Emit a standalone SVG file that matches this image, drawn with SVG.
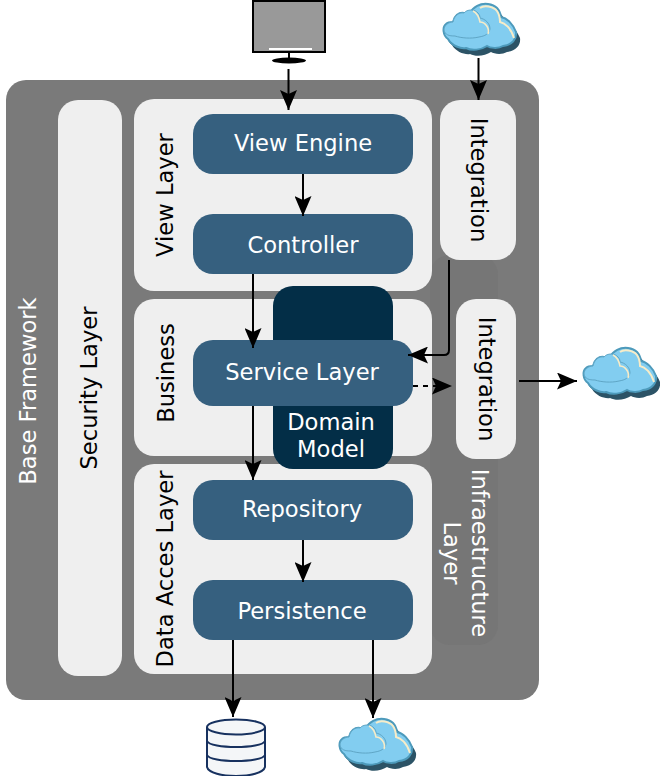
<svg xmlns="http://www.w3.org/2000/svg" width="660" height="776" viewBox="0 0 660 776">
<style>
text{font-family:"DejaVu Sans",sans-serif;font-size:22.6px;text-anchor:middle;dominant-baseline:central}
.w{fill:#fff}.d{fill:#000}
.panel{fill:#efefef}
.blue{fill:#36607f}
.c{fill:none;stroke:#000;stroke-width:2}
</style>
<defs>
<marker id="a" viewBox="0 0 20 17" refX="20" refY="8.500" markerUnits="userSpaceOnUse" markerWidth="20" markerHeight="17" orient="auto"><path d="M0 0L20 8.500L0 17L4 8.500Z" fill="#000"/></marker>
<symbol id="cloud" viewBox="0 0 78 56" overflow="visible">
<path transform="translate(4 6)" d="M5 37C0 34-1 25 3 22C5 20 8 20 10 20C11 14 16 10 21 11C24 11 26 11 27 11C30 5 37 1 45 2C52 3 57 7 58 15C64 16 70 22 73 30C74 37 69 43 60 44C55 47 47 46 44 44C38 48 29 49 23 46C18 47 9 44 5 37Z" fill="#2c5366"/>
<path d="M5 37C0 34-1 25 3 22C5 20 8 20 10 20C11 14 16 10 21 11C24 11 26 11 27 11C30 5 37 1 45 2C52 3 57 7 58 15C64 16 70 22 73 30C74 37 69 43 60 44C55 47 47 46 44 44C38 48 29 49 23 46C18 47 9 44 5 37Z" fill="#82cdf0" stroke="#4d9abb" stroke-width="2"/>
<path d="M37 6C41 3 50 4 54 9C56 12 57 16 57 20C62 21 68 26 71 36" fill="none" stroke="#f7ecc8" stroke-width="2"/>
<path d="M1 28C1 23 6 20 10 20C11 14 16 10 21 11C24 7 32 7 35 11C37 13 37 15 37 16C42 17 47 21 47 27C46 32 42 34 36 35C28 37 18 36 12 34C6 34 2 33 1 28Z" fill="#82cdf0" stroke="#5fa6c6" stroke-width="1"/>
<path d="M30 9C34 11 36 15 37 20C42 20 47 26 45 32" fill="none" stroke="#f7ecc8" stroke-width="1.600"/>
</symbol>
</defs>

<g id="base-framework">
<rect x="6" y="80" width="533" height="620" rx="20" fill="#7a7a7a"/>
<text class="w" transform="translate(28 391) rotate(-90)">Base Framework</text>
</g>
<g id="infrastructure-layer">
<rect x="430" y="255" width="68" height="390" rx="20" fill="#767676"/>
<text class="w" transform="translate(480 553) rotate(90)">Infraestructure</text>
<text class="w" transform="translate(452 553) rotate(90)">Layer</text>
</g>
<g id="security-layer">
<rect class="panel" x="58" y="100" width="64" height="576" rx="20"/>
<text class="d" transform="translate(89 388) rotate(-90)">Security Layer</text>
</g>
<g id="view-layer">
<rect class="panel" x="134" y="99" width="298" height="192" rx="20"/>
<text class="d" transform="translate(165 195) rotate(-90)">View Layer</text>
</g>
<g id="business">
<rect class="panel" x="134" y="299" width="298" height="157" rx="20"/>
<text class="d" transform="translate(166 373) rotate(-90)">Business</text>
</g>
<g id="data-access-layer">
<rect class="panel" x="134" y="464" width="298" height="210" rx="20"/>
<text class="d" transform="translate(165 569) rotate(-90)">Data Acces Layer</text>
</g>
<g id="domain-model">
<rect x="273" y="286" width="120" height="183" rx="20" fill="#032e47"/>
<text class="w" x="331" y="422">Domain</text>
<text class="w" x="331" y="449">Model</text>
</g>
<g id="view-engine"><rect class="blue" x="193" y="114" width="220" height="60" rx="20"/><text class="w" x="303" y="143">View Engine</text></g>
<g id="controller"><rect class="blue" x="193" y="214" width="220" height="60" rx="20"/><text class="w" x="303" y="245">Controller</text></g>
<g id="service-layer"><rect class="blue" x="193" y="340" width="220" height="66" rx="20"/><text class="w" x="302" y="372">Service Layer</text></g>
<g id="repository"><rect class="blue" x="193" y="480" width="220" height="60" rx="20"/><text class="w" x="302" y="509">Repository</text></g>
<g id="persistence"><rect class="blue" x="193" y="580" width="220" height="60" rx="20"/><text class="w" x="302" y="611">Persistence</text></g>
<g id="integration-top">
<rect class="panel" x="440" y="100" width="76" height="160" rx="20"/>
<text class="d" transform="translate(479 180) rotate(90)">Integration</text>
</g>
<g id="integration-bottom">
<rect class="panel" x="456" y="299" width="60" height="160" rx="20"/>
<text class="d" transform="translate(487 379) rotate(90)">Integration</text>
</g>
<g id="connectors">
<path class="c" marker-end="url(#a)" d="M288.500 69V110"/>
<path class="c" marker-end="url(#a)" d="M478.500 58V100"/>
<path class="c" marker-end="url(#a)" d="M303 174V216"/>
<path class="c" marker-end="url(#a)" d="M253 274V348"/>
<path class="c" marker-end="url(#a)" d="M449 260V350Q449 355 444 355H408"/>
<path class="c" stroke-dasharray="5 5" marker-end="url(#a)" d="M413 386H452"/>
<path class="c" marker-end="url(#a)" d="M519 381H577"/>
<path class="c" marker-end="url(#a)" d="M253 406V480"/>
<path class="c" marker-end="url(#a)" d="M303 540V582"/>
<path class="c" marker-end="url(#a)" d="M233 640V717"/>
<path class="c" marker-end="url(#a)" d="M373 640V718"/>
</g>
<g id="monitor">
<rect x="253" y="1" width="72" height="51" fill="#999" stroke="#000" stroke-width="2"/>
<rect x="269" y="48" width="43" height="2" fill="#fff"/>
<rect x="288" y="52" width="2" height="7" fill="#000"/>
<ellipse cx="289" cy="60.500" rx="17" ry="3" fill="#000"/>
</g>
<g id="cloud-top"><use href="#cloud" x="443" y="2" width="78" height="56"/></g>
<g id="cloud-right"><use href="#cloud" x="583" y="346" width="78" height="56"/></g>
<g id="cloud-bottom"><use href="#cloud" x="339" y="717" width="78" height="56"/></g>
<g id="database">
<path d="M207 727V767C210 779 262 779 265 767V727Z" fill="#f4f6f8"/>
<path d="M207 727V767C210 779 262 779 265 767V727" fill="none" stroke="#17315f" stroke-width="2"/>
<ellipse cx="236" cy="727" rx="29" ry="7.500" fill="#f4f6f8" stroke="#17315f" stroke-width="2"/>
<path d="M207 741C210 749 262 749 265 741M207 755C210 763 262 763 265 755" fill="none" stroke="#17315f" stroke-width="2"/>
</g>
</svg>
